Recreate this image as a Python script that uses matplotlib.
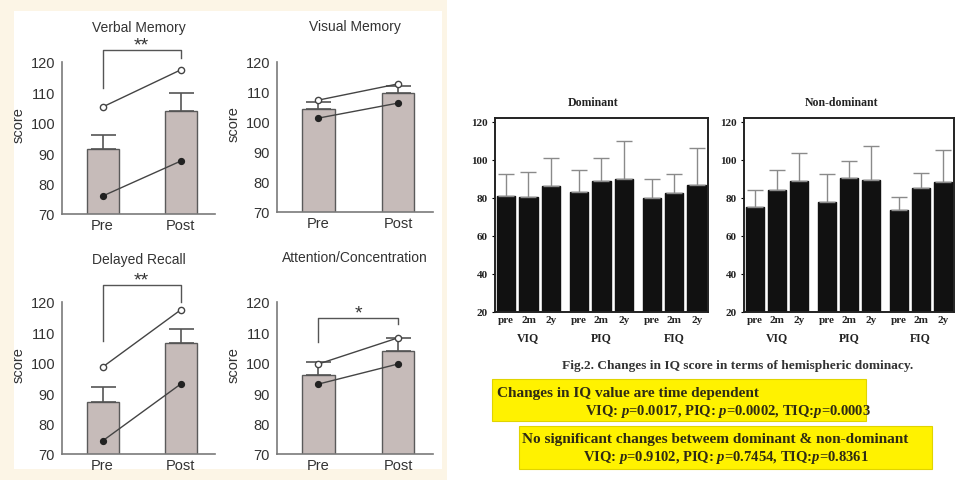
import matplotlib
matplotlib.use("Agg")
import matplotlib.pyplot as plt
import matplotlib.transforms as mtransforms
from matplotlib.patches import Rectangle
import numpy as np

# ---- left figure: memory scores, pre vs post ----
mem_titles = ["Verbal Memory", "Visual Memory", "Delayed Recall", "Attention/Concentration"]
mem_xlabels = ["Pre", "Post"]
mem_mean_pre = [91.4, 104.3, 87.1, 96.0]
mem_mean_post = [104.0, 109.7, 106.5, 103.9]
mem_sd_pre = [4.6, 2.4, 4.9, 4.3]
mem_sd_post = [5.8, 2.3, 4.5, 4.3]
case_a_pre = [105.2, 107.3, 98.6, 99.6]    # open circles
case_a_post = [117.4, 112.7, 117.4, 108.2]
case_b_pre = [75.9, 101.3, 74.3, 93.0]     # filled circles
case_b_post = [87.4, 106.3, 93.0, 99.6]
mem_sig = ["**", "", "**", "*"]
sig_left = [111.4, None, 107.2, 106.8]
sig_top = [124.0, None, 125.6, 114.7]
sig_right = [121.3, None, 119.9, 112.8]

# ---- right figure: IQ by hemispheric dominance ----
iq_groups = ["VIQ", "PIQ", "FIQ"]
iq_times = ["pre", "2m", "2y"]
dom_mean = [81.2, 80.5, 86.5, 83.0, 89.1, 90.0, 79.8, 82.6, 87.0]
dom_err = [11.4, 13.0, 14.4, 11.7, 11.9, 19.8, 10.2, 10.0, 19.3]
nondom_mean = [75.3, 84.3, 89.1, 78.0, 90.3, 89.6, 73.7, 85.0, 88.3]
nondom_err = [9.0, 10.5, 14.6, 14.6, 9.3, 17.9, 6.7, 8.2, 17.1]

caption = "Fig.2. Changes in IQ score in terms of hemispheric dominacy."
box1_lines = ["Changes in IQ value are time dependent",
              "VIQ: $\\it{p}$=0.0017, PIQ: $\\it{p}$=0.0002, TIQ:$\\it{p}$=0.0003"]
box2_lines = ["No significant changes betweem dominant & non-dominant",
              "VIQ: $\\it{p}$=0.9102, PIQ: $\\it{p}$=0.7454, TIQ:$\\it{p}$=0.8361"]

plt.rcParams["mathtext.fontset"] = "custom"
plt.rcParams["mathtext.it"] = "Liberation Serif:italic:bold"
plt.rcParams["mathtext.rm"] = "Liberation Serif:bold"

W, H = 956, 481
fig = plt.figure(figsize=(W / 100, H / 100), dpi=100)
fig.patch.set_facecolor("white")


def rect(x0, y0, x1, y1):
    # pixel box (top-left origin) -> figure fraction [l, b, w, h]
    return [x0 / W, 1 - y1 / H, (x1 - x0) / W, (y1 - y0) / H]


def fxy(x, y):
    return x / W, 1 - y / H


# cream background behind the left figure
fig.add_artist(Rectangle((0, 0), 447 / W, 1, transform=fig.transFigure,
                         facecolor="#fcf5e6", edgecolor="none", zorder=0))
fig.add_artist(Rectangle(fxy(14, 470), 428 / W, 458 / H, transform=fig.transFigure,
                         facecolor="white", edgecolor="none", zorder=0))

sans = ["Liberation Sans", "DejaVu Sans"]
serif = ["Liberation Serif", "DejaVu Serif"]
txt = "#333333"
spine_c = "#7a7a7a"

mem_boxes = [(62, 63, 215, 215), (277, 63, 433, 213),
             (62, 303, 215, 455), (277, 303, 433, 455)]
title_y = [28, 27, 260, 258]

for i, box in enumerate(mem_boxes):
    ax = fig.add_axes(rect(*box))
    ax.set_facecolor("none")
    x = np.arange(2)
    means = [mem_mean_pre[i], mem_mean_post[i]]
    sds = [mem_sd_pre[i], mem_sd_post[i]]
    ax.bar(x, means, width=0.41, color="#c6bbb9", edgecolor="#5a5a5a",
           linewidth=1.0, zorder=2)
    ax.errorbar(x, means, yerr=[[0, 0], sds], fmt="none", ecolor="#555555",
                elinewidth=1.2, capsize=9, capthick=1.2, zorder=3)
    ax.plot(x, [case_a_pre[i], case_a_post[i]], "-o", color="#444444", lw=1,
            markersize=4.5, markerfacecolor="white", markeredgecolor="#444444",
            markeredgewidth=1, zorder=4)
    ax.plot(x, [case_b_pre[i], case_b_post[i]], "-o", color="#444444", lw=1,
            markersize=4.2, markerfacecolor="#222222", markeredgecolor="#222222",
            zorder=4)
    if mem_sig[i]:
        ax.plot([0, 0, 1, 1], [sig_left[i], sig_top[i], sig_top[i], sig_right[i]],
                color="#555555", lw=1, clip_on=False)
        ax.annotate(mem_sig[i], xy=(0.5, sig_top[i]), xytext=(0, 0.5),
                    textcoords="offset points", ha="center", va="baseline",
                    fontsize=14, color=txt, family=sans, annotation_clip=False)
    ax.set_xlim(-0.52, 1.44)
    ax.set_ylim(70, 120)
    ax.set_yticks(range(70, 121, 10))
    ax.set_xticks(x)
    ax.set_xticklabels(mem_xlabels)
    for s in ["top", "right"]:
        ax.spines[s].set_visible(False)
    for s in ["left", "bottom"]:
        ax.spines[s].set_color(spine_c)
        ax.spines[s].set_linewidth(1.2)
    ax.tick_params(length=0, labelsize=10.5, labelcolor=txt, pad=5)
    for lab in ax.get_xticklabels() + ax.get_yticklabels():
        lab.set_family(sans)
    ax.tick_params(axis="x", labelsize=10.5, pad=3)
    ax.set_ylabel("score", fontsize=10.5, color=txt, family=sans)
    ax.yaxis.set_label_coords(-0.235, 0.59)
    cx = (box[0] + box[2]) / 2
    fig.text(*fxy(cx, title_y[i]), mem_titles[i], ha="center", va="center",
             fontsize=10, color=txt, family=sans)

# ---- right bar charts ----
pos = np.array([g * 3.27 + t for g in range(3) for t in range(3)])
iq_boxes = [(495, 119, 708, 313), (744, 119, 954, 313)]
iq_titles = ["Dominant", "Non-dominant"]
iq_means = [dom_mean, nondom_mean]
iq_errs = [dom_err, nondom_err]

for k in range(2):
    ax = fig.add_axes(rect(*iq_boxes[k]))
    ax.bar(pos, iq_means[k], width=0.82, color="#111111", edgecolor="#111111",
           zorder=2)
    ax.errorbar(pos, iq_means[k], yerr=[np.zeros(9), iq_errs[k]], fmt="none",
                ecolor="#8a8a8a", elinewidth=1, capsize=6, capthick=1, zorder=3)
    ax.set_xlim(-0.5, 9.05)
    ax.set_ylim(20, 122)
    ax.set_yticks(range(20, 121, 20))
    ax.set_xticks(pos)
    ax.set_xticklabels(iq_times * 3)
    for s in ax.spines.values():
        s.set_linewidth(1.4)
        s.set_color("#222222")
    ax.tick_params(axis="y", length=2, width=0.8, labelsize=8, pad=3)
    ax.tick_params(axis="x", length=0, labelsize=8, pad=2)
    for lab in ax.get_xticklabels() + ax.get_yticklabels():
        lab.set_family(serif)
        lab.set_fontweight("bold")
        lab.set_color("#222222")
    trans = mtransforms.blended_transform_factory(ax.transData, ax.transAxes)
    for g, name in enumerate(iq_groups):
        ax.text(pos[g * 3 + 1], -0.13, name, transform=trans, ha="center",
                va="center", fontsize=8.5, fontweight="bold", family=serif,
                color="#222222")
    cx = (iq_boxes[k][0] + iq_boxes[k][2]) / 2 - 8
    fig.text(*fxy(cx, 103), iq_titles[k], ha="center", va="center",
             fontsize=8.5, fontweight="bold", family=serif, color="#222222")

fig.text(*fxy(738, 366), caption, ha="center", va="center", fontsize=9.6,
         fontweight="bold", family=serif, color="#333333")

# yellow note boxes
fig.add_artist(Rectangle(fxy(492, 422), 374 / W, 42 / H, transform=fig.transFigure,
                         facecolor="#fff200", edgecolor="#e0d400", lw=0.8))
fig.add_artist(Rectangle(fxy(519, 470), 413 / W, 43 / H, transform=fig.transFigure,
                         facecolor="#fff200", edgecolor="#e0d400", lw=0.8))
box_txt = "#2e2a14"
fig.text(*fxy(497, 394), box1_lines[0], ha="left", va="center", fontsize=11,
         fontweight="bold", family=serif, color=box_txt)
fig.text(*fxy(585, 412), box1_lines[1], ha="left", va="center", fontsize=10.5,
         fontweight="bold", family=serif, color=box_txt)
fig.text(*fxy(522, 440), box2_lines[0], ha="left", va="center", fontsize=11,
         fontweight="bold", family=serif, color=box_txt)
fig.text(*fxy(583, 458), box2_lines[1], ha="left", va="center", fontsize=10.5,
         fontweight="bold", family=serif, color=box_txt)

fig.savefig("out.png", dpi=100)
